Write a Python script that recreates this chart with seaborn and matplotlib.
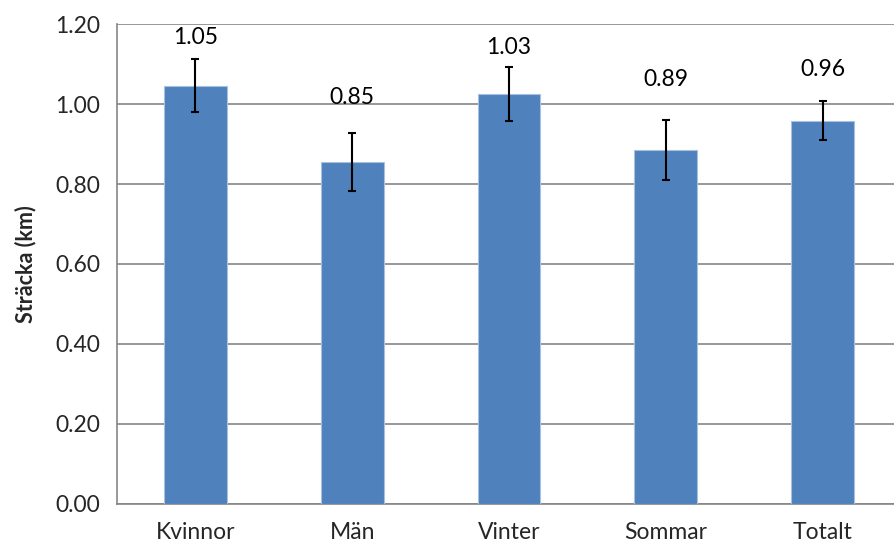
import matplotlib
matplotlib.use('Agg')
import matplotlib.pyplot as plt
import seaborn as sns
import pandas as pd
import numpy as np

categories = ['Kvinnor', 'Män', 'Vinter', 'Sommar', 'Totalt']
distance_km = [1.046, 0.855, 1.026, 0.885, 0.959]
error_km = [0.066, 0.072, 0.067, 0.075, 0.050]
value_labels = ['1.05', '0.85', '1.03', '0.89', '0.96']
# label heights as placed in the original (data units)
label_y = [1.166, 1.016, 1.143, 1.061, 1.086]

df = pd.DataFrame({'cat': categories, 'dist': distance_km})

sns.set_style('white')
plt.rcParams['font.family'] = ['Lato', 'DejaVu Sans']
grey = '#868686'

fig = plt.figure(figsize=(8.95, 5.47), dpi=100)
ax = fig.add_axes([0.1307, 0.0795, 0.8760, 0.8761])

sns.barplot(data=df, x='cat', y='dist', color='#4F81BD', saturation=1,
            width=0.4, errorbar=None, edgecolor='#A9C0DE', linewidth=0.8,
            ax=ax, zorder=3)
ax.errorbar(np.arange(len(categories)), distance_km, yerr=error_km,
            fmt='none', ecolor='black', elinewidth=1.5, capsize=2.6,
            capthick=1.5, zorder=4)

for i, (lab, y) in enumerate(zip(value_labels, label_y)):
    ax.text(i, y, lab, ha='center', va='center', fontsize=16.5, color='black')

ax.set_ylim(0, 1.2)
ax.set_xlim(-0.5, 4.5)
ax.set_yticks(np.arange(0, 1.21, 0.2))
ax.set_yticklabels(['{:.2f}'.format(v) for v in np.arange(0, 1.21, 0.2)])
ax.set_xticks(np.arange(len(categories)))
ax.set_xticklabels(categories)
ax.set_xticks(np.arange(-0.5, 4.6, 1), minor=True)
ax.tick_params(axis='x', which='major', length=0, labelsize=16.5, pad=13)
ax.tick_params(axis='x', which='minor', length=7, width=1.2, color=grey,
               direction='out')
ax.tick_params(axis='y', length=7, width=1.2, color=grey, labelsize=16.5,
               pad=5, direction='out')

ax.yaxis.grid(True, color=grey, linewidth=1.2, zorder=0)
ax.set_axisbelow(True)
for s in ['top', 'right']:
    ax.spines[s].set_visible(False)
for s in ['left', 'bottom']:
    ax.spines[s].set_color(grey)
    ax.spines[s].set_linewidth(1.2)

ax.set_xlabel('')
ax.set_ylabel('Sträcka (km)', fontsize=15.5, fontweight='bold', labelpad=14)

plt.savefig('out.png', dpi=100)
